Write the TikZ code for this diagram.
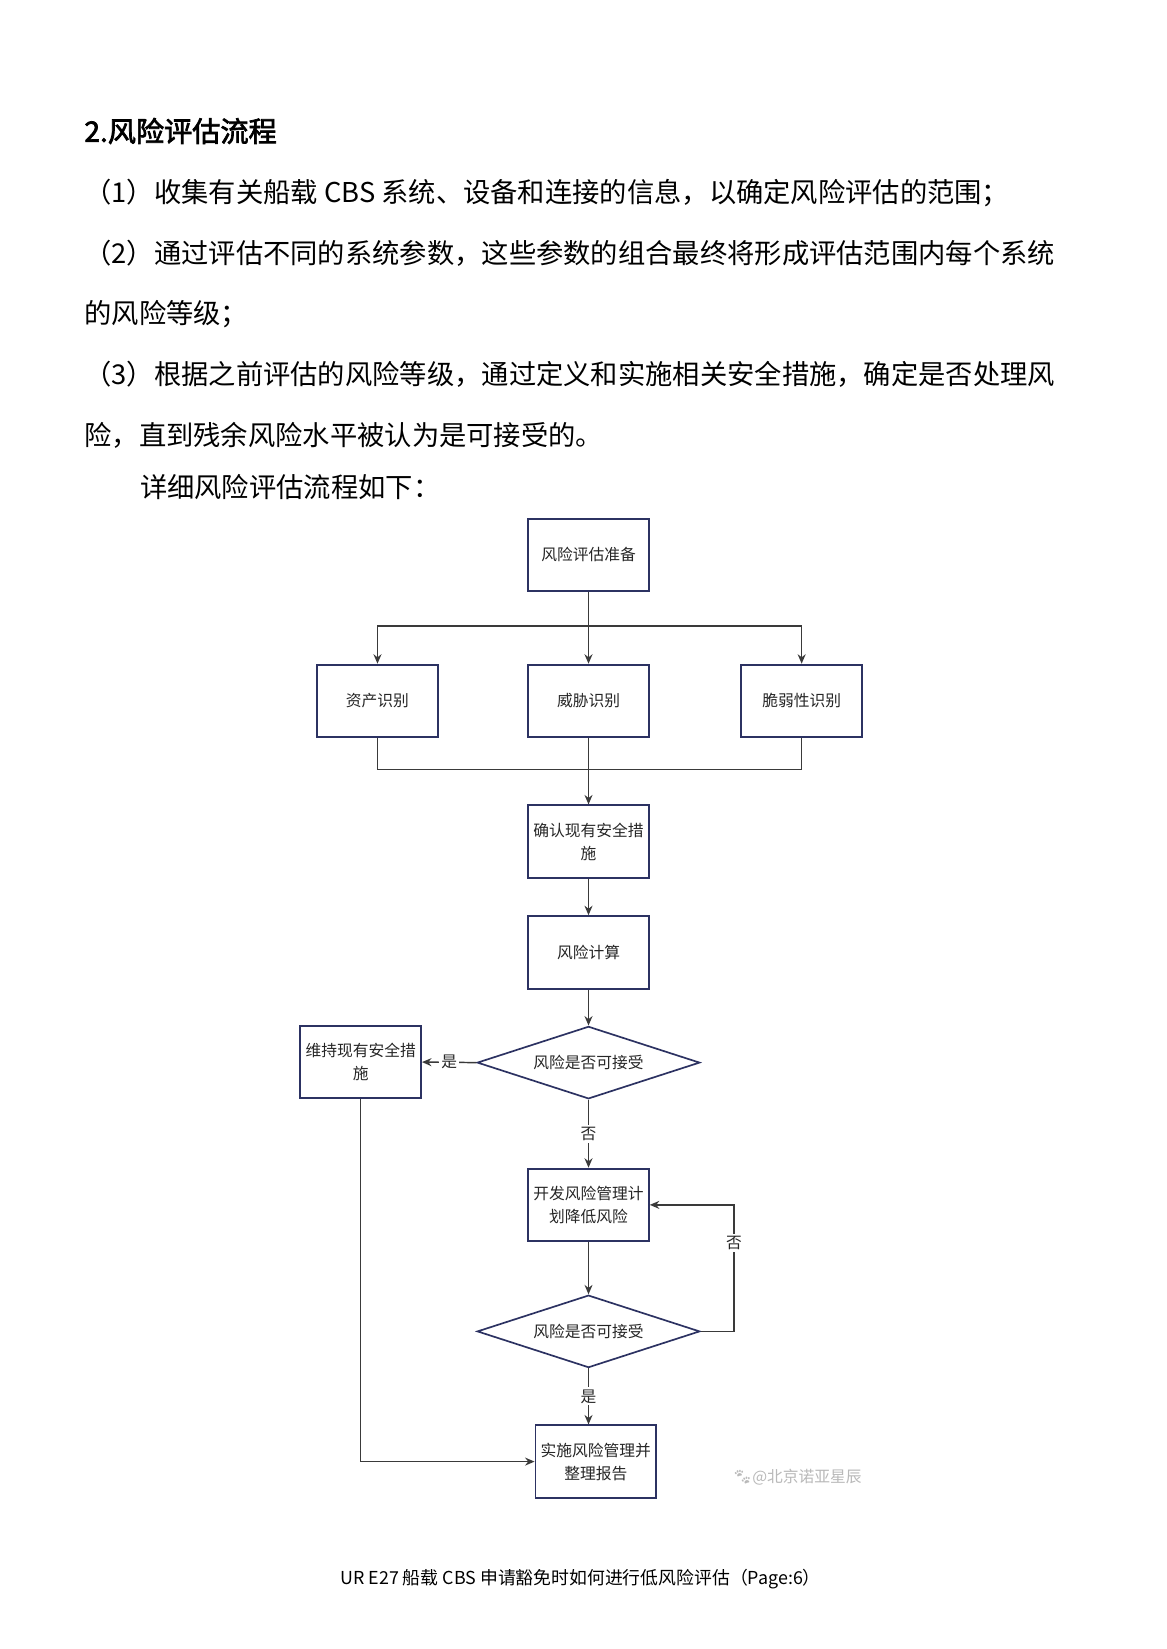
\documentclass[tikz,border=0pt]{standalone}
\usepackage{fontspec}
\setmainfont{Noto Sans CJK SC}
\newfontfamily\titlefont{Noto Sans CJK SC}[FakeBold=2.5]
\newfontfamily\emojifont{Noto Emoji}
\usetikzlibrary{shapes.geometric,arrows.meta}
\definecolor{boxc}{RGB}{44,50,98}
\definecolor{linec}{RGB}{58,58,58}
\begin{document}
\begin{tikzpicture}[x=0.5pt,y=-0.5pt,
  box/.style={draw=boxc, line width=0.9pt, minimum width=57.5pt, minimum height=34.5pt, inner sep=0pt, align=center, font=\fontsize{7.5pt}{11pt}\selectfont, text=black!85},
  dec/.style={diamond, aspect=3.07, draw=boxc, line width=0.8pt, minimum width=106pt, minimum height=34.5pt, inner sep=0pt, font=\fontsize{7.5pt}{11pt}\selectfont, text=black!85},
  conn/.style={draw=linec, line width=0.7pt},
  arr/.style={conn, -{Stealth[length=4.5pt,width=3.8pt]}},
  lab/.style={fill=white, inner sep=1pt, font=\fontsize{7.5pt}{9pt}\selectfont, text=black!85},
  body/.style={anchor=base west, inner sep=0pt, font=\fontsize{13pt}{16pt}\selectfont}]
\fill[white] (0,0) rectangle (1110.5,1570.5);
\useasboundingbox (0,0) rectangle (1110.5,1570.5);

% text
\node[anchor=base west, inner sep=0pt, font=\fontsize{13.4pt}{16pt}\titlefont] (title) at (80,135) {2.风险评估流程};
\node[body] (l1) at (80,193) {（1）收集有关船载 CBS 系统、设备和连接的信息，以确定风险评估的范围；};
\node[body] (l2) at (80,251) {（2）通过评估不同的系统参数，这些参数的组合最终将形成评估范围内每个系统};
\node[body] (l3) at (80,308) {的风险等级；};
\node[body] (l4) at (80,366) {（3）根据之前评估的风险等级，通过定义和实施相关安全措施，确定是否处理风};
\node[body] (l5) at (80,424) {险，直到残余风险水平被认为是可接受的。};
\node[body] (l6) at (133,474) {详细风险评估流程如下：};

% flowchart nodes
\node[box] (prep) at (560.5,528.5) {风险评估准备};
\node[box] (asset) at (359.5,667.5) {资产识别};
\node[box] (threat) at (560.5,667.5) {威胁识别};
\node[box] (vuln) at (763.5,667.5) {脆弱性识别};
\node[box] (confirm) at (560.5,801.5) {确认现有安全措\\施};
\node[box] (calc) at (560.5,907) {风险计算};
\node[dec] (d1) at (560.5,1012) {风险是否可接受};
\node[box] (keep) at (343.5,1011.5) {维持现有安全措\\施};
\node[box] (dev) at (560.5,1147.5) {开发风险管理计\\划降低风险};
\node[dec] (d2) at (560.5,1268) {风险是否可接受};
\node[box] (impl) at (567.5,1392) {实施风险管理并\\整理报告};

% connectors
\coordinate (br) at (560.5,596);
\coordinate (mg) at (560.5,733);
\draw[arr] (prep.south) -- (threat.north);
\draw[arr] (br) -| (asset.north);
\draw[arr] (br) -| (vuln.north);
\draw[conn] (asset.south) |- (mg);
\draw[conn] (vuln.south) |- (mg);
\draw[arr] (threat.south) -- (confirm.north);
\draw[arr] (confirm) -- (calc);
\draw[arr] (calc) -- (d1.north);
\draw[arr] (d1.west) -- node[lab] (yes1) {是} (keep.east);
\draw[arr] (d1.south) -- node[lab] (no1) {否} (dev.north);
\draw[arr] (dev) -- (d2.north);
\coordinate (lpc) at (699,1147.5);
\draw[arr] (d2.east) -| (lpc) -- (dev.east);
\node[lab] (no2) at (699,1184) {否};
\draw[arr] (d2.south) -- node[lab] (yes2) {是} (d2.south |- impl.north);
\draw[arr] (keep.south) |- (impl.west);

% watermark
\node[anchor=west, inner sep=0pt, text=gray!55, font=\fontsize{7.5pt}{9pt}\selectfont] (wm) at (697,1407) {{\emojifont 🐾}@北京诺亚星辰};

% footer
\node[anchor=base, inner sep=0pt, font=\fontsize{8.5pt}{10pt}\selectfont] (foot) at (553,1509) {UR E27 船载 CBS 申请豁免时如何进行低风险评估（Page:6）};
\end{tikzpicture}
\end{document}
